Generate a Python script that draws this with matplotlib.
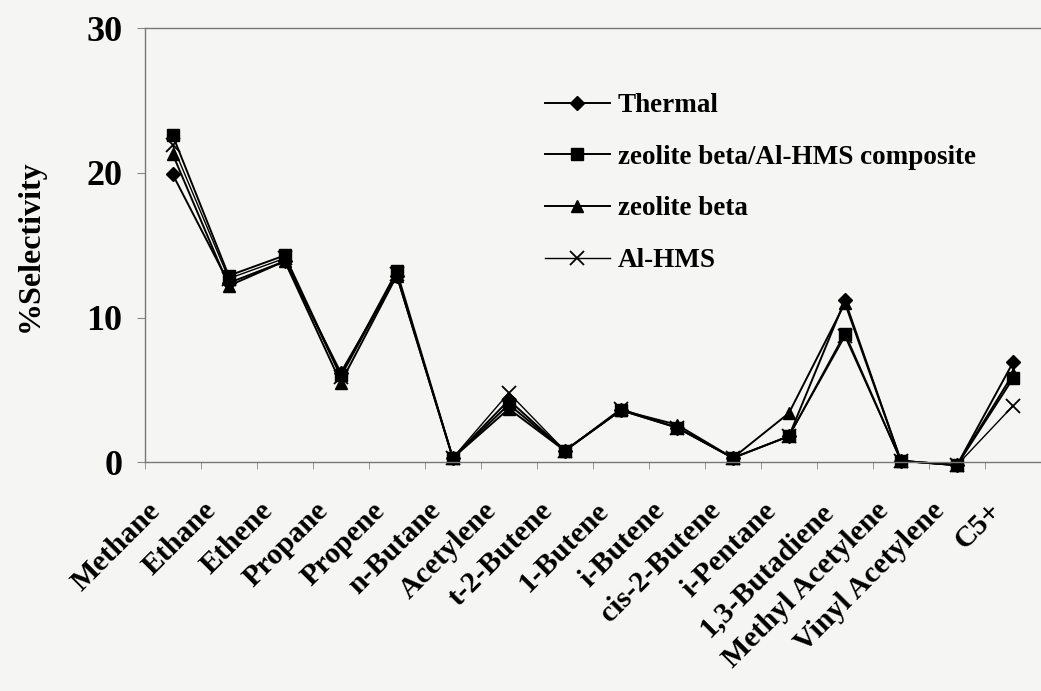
import matplotlib.pyplot as plt
import matplotlib.transforms as mtransforms
import numpy as np

# % selectivity of cracking products
products = ["Methane", "Ethane", "Ethene", "Propane", "Propene", "n-Butane",
            "Acetylene", "t-2-Butene", "1-Butene", "i-Butene", "cis-2-Butene",
            "i-Pentane", "1,3-Butadiene", "Methyl Acetylene", "Vinyl Acetylene", "C5+"]
thermal   = [19.9, 12.4, 13.9, 6.2, 12.9, 0.3, 4.3, 0.8, 3.6, 2.4, 0.3, 1.8, 11.2, 0.1, -0.2, 6.9]
composite = [22.6, 12.9, 14.3, 6.0, 13.2, 0.3, 4.0, 0.8, 3.6, 2.4, 0.3, 1.8, 8.9, 0.1, -0.2, 5.8]
beta      = [21.3, 12.2, 13.9, 5.5, 12.9, 0.3, 3.7, 0.8, 3.6, 2.6, 0.3, 3.4, 11.0, 0.1, -0.2, 6.1]
alhms     = [21.9, 12.7, 14.1, 5.9, 13.0, 0.3, 4.8, 0.8, 3.7, 2.4, 0.3, 1.8, 8.7, 0.1, -0.2, 3.9]

plt.rcParams['font.family'] = ['Liberation Serif', 'DejaVu Serif']
plt.rcParams['font.weight'] = 'bold'
plt.rcParams['axes.labelweight'] = 'bold'

fig = plt.figure(figsize=(10.41, 6.91), dpi=100, facecolor='#f5f5f3')
ax = fig.add_axes([0.139, 0.331, 0.861, 0.628])
ax.set_facecolor('#f5f5f3')

x = np.arange(len(products))
ax.plot(x, thermal, 'k-', marker='D', ms=7, lw=1.4, label='Thermal', clip_on=False)
ax.plot(x, composite, 'k-', marker='s', ms=8, lw=1.4, label='zeolite beta/Al-HMS composite', clip_on=False)
ax.plot(x, beta, 'k-', marker='^', ms=8, lw=1.4, label='zeolite beta', clip_on=False)
ax.plot(x, alhms, 'k-', marker='x', ms=10, mew=1.3, lw=1.0, label='Al-HMS', clip_on=False)

ax.set_xlim(-0.5, len(products) - 0.5)
ax.set_ylim(0, 30)
ax.set_yticks([0, 10, 20, 30])
ax.tick_params(axis='y', labelsize=26, length=6, color='#888888', pad=10)
ax.set_xticks(x)
ax.set_xticklabels(products, rotation=45, ha='right', rotation_mode='anchor', fontsize=21.5)
ax.set_xticks(np.arange(-0.5, len(products), 1), minor=True)
ax.tick_params(axis='x', which='major', length=0, pad=25)
ax.tick_params(axis='x', which='minor', length=5, color='#888888')
shift = mtransforms.ScaledTranslation(-0.26, 0, fig.dpi_scale_trans)
for lab in ax.get_xticklabels():
    lab.set_transform(lab.get_transform() + shift)
ax.set_ylabel('%Selectivity', fontsize=23, labelpad=30)

for s in ['left', 'bottom', 'top']:
    ax.spines[s].set_color('#777777')
    ax.spines[s].set_linewidth(1.0)
ax.spines['right'].set_visible(False)

ax.legend(loc='upper left', bbox_to_anchor=(0.434, 0.875), frameon=False,
          fontsize=19.5, handlelength=2.4, labelspacing=0.98, handletextpad=0.3,
          borderaxespad=0)

plt.savefig("out.png", dpi=100, facecolor=fig.get_facecolor())
